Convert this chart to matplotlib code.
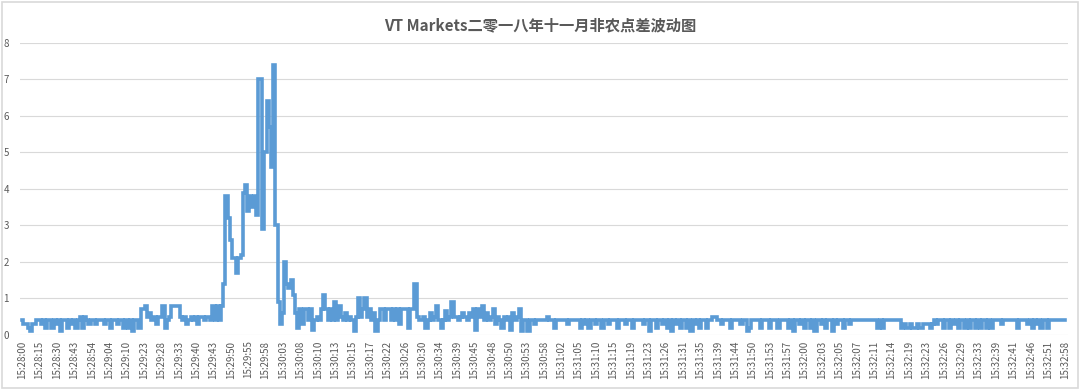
import numpy as np
import matplotlib
matplotlib.use("Agg")
import matplotlib.pyplot as plt
from matplotlib.patches import Rectangle

plt.rcParams['font.family'] = ['Noto Sans CJK SC', 'DejaVu Sans']

title = "VT Markets二零一八年十一月非农点差波动图"

tick_labels = [
    "15:28:00", "15:28:15", "15:28:30", "15:28:43", "15:28:54", "15:29:04",
    "15:29:10", "15:29:23", "15:29:28", "15:29:33", "15:29:40", "15:29:43",
    "15:29:50", "15:29:55", "15:29:58", "15:30:03", "15:30:08", "15:30:10",
    "15:30:13", "15:30:15", "15:30:17", "15:30:22", "15:30:26", "15:30:30",
    "15:30:34", "15:30:39", "15:30:45", "15:30:48", "15:30:50", "15:30:53",
    "15:30:58", "15:31:02", "15:31:05", "15:31:10", "15:31:15", "15:31:19",
    "15:31:23", "15:31:26", "15:31:31", "15:31:35", "15:31:39", "15:31:44",
    "15:31:50", "15:31:53", "15:31:57", "15:32:00", "15:32:03", "15:32:05",
    "15:32:07", "15:32:11", "15:32:14", "15:32:19", "15:32:23", "15:32:26",
    "15:32:29", "15:32:33", "15:32:39", "15:32:41", "15:32:46", "15:32:51",
    "15:32:58",
]

# spread values, 8 samples between consecutive labelled ticks
spread = [
    0.4, 0.3, 0.3, 0.2, 0.1, 0.3, 0.3, 0.4,
    0.4, 0.3, 0.4, 0.2, 0.4, 0.4, 0.2, 0.4,
    0.3, 0.4, 0.1, 0.4, 0.4, 0.2, 0.4, 0.3,
    0.4, 0.2, 0.4, 0.5, 0.2, 0.5, 0.4, 0.3,
    0.4, 0.4, 0.3, 0.4, 0.4, 0.4, 0.3, 0.4,
    0.4, 0.2, 0.4, 0.4, 0.3, 0.4, 0.4, 0.2,
    0.4, 0.2, 0.4, 0.1, 0.4, 0.4, 0.2, 0.7,
    0.7, 0.8, 0.5, 0.6, 0.4, 0.5, 0.3, 0.5,
    0.5, 0.8, 0.2, 0.4, 0.5, 0.8, 0.8, 0.8,
    0.8, 0.5, 0.4, 0.5, 0.3, 0.4, 0.5, 0.4,
    0.5, 0.3, 0.5, 0.5, 0.4, 0.5, 0.5, 0.4,
    0.8, 0.4, 0.8, 0.4, 0.8, 1.4, 3.8, 3.2,
    2.6, 2.1, 2.1, 1.7, 2.1, 2.2, 3.9, 4.1,
    3.4, 3.8, 3.5, 3.8, 3.3, 7.0, 7.0, 2.9,
    5.0, 6.4, 5.7, 4.6, 7.4, 3.0, 0.9, 0.3,
    0.6, 2.0, 1.4, 1.3, 1.5, 1.1, 0.6, 0.2,
    0.7, 0.3, 0.7, 0.7, 0.4, 0.7, 0.15, 0.4,
    0.5, 0.4, 0.7, 1.1, 0.7, 0.4, 0.7, 0.4,
    0.9, 0.4, 0.8, 0.5, 0.4, 0.6, 0.4, 0.5,
    0.4, 0.1, 0.5, 1.0, 0.5, 0.7, 1.0, 0.5,
    0.7, 0.4, 0.6, 0.1, 0.4, 0.7, 0.7, 0.4,
    0.7, 0.7, 0.4, 0.7, 0.4, 0.7, 0.3, 0.7,
    0.7, 0.7, 0.2, 0.7, 0.7, 1.4, 0.5, 0.4,
    0.4, 0.5, 0.2, 0.4, 0.6, 0.4, 0.5, 0.8,
    0.4, 0.2, 0.4, 0.65, 0.4, 0.5, 0.9, 0.5,
    0.5, 0.4, 0.5, 0.6, 0.5, 0.4, 0.6, 0.5,
    0.7, 0.15, 0.7, 0.5, 0.8, 0.4, 0.6, 0.4,
    0.5, 0.7, 0.3, 0.5, 0.4, 0.2, 0.5, 0.4,
    0.5, 0.15, 0.6, 0.4, 0.5, 0.7, 0.1, 0.4,
    0.4, 0.1, 0.4, 0.4, 0.3, 0.4, 0.4, 0.4,
    0.4, 0.4, 0.5, 0.4, 0.4, 0.2, 0.4, 0.4,
    0.4, 0.4, 0.4, 0.3, 0.4, 0.4, 0.4, 0.4,
    0.4, 0.2, 0.4, 0.3, 0.4, 0.2, 0.4, 0.4,
    0.3, 0.4, 0.4, 0.2, 0.4, 0.4, 0.3, 0.4,
    0.4, 0.4, 0.2, 0.4, 0.4, 0.4, 0.3, 0.4,
    0.4, 0.2, 0.4, 0.4, 0.4, 0.4, 0.3, 0.4,
    0.4, 0.1, 0.4, 0.4, 0.2, 0.4, 0.4, 0.3,
    0.4, 0.2, 0.4, 0.1, 0.4, 0.3, 0.4, 0.2,
    0.4, 0.4, 0.2, 0.4, 0.1, 0.4, 0.3, 0.4,
    0.2, 0.4, 0.4, 0.2, 0.4, 0.4, 0.5, 0.5,
    0.4, 0.4, 0.3, 0.4, 0.4, 0.4, 0.2, 0.4,
    0.4, 0.4, 0.4, 0.3, 0.4, 0.4, 0.1, 0.2,
    0.4, 0.4, 0.4, 0.4, 0.2, 0.4, 0.4, 0.4,
    0.2, 0.4, 0.4, 0.4, 0.2, 0.4, 0.4, 0.4,
    0.4, 0.2, 0.4, 0.1, 0.4, 0.4, 0.3, 0.4,
    0.2, 0.4, 0.4, 0.2, 0.4, 0.1, 0.4, 0.4,
    0.3, 0.4, 0.2, 0.4, 0.4, 0.1, 0.4, 0.3,
    0.4, 0.4, 0.2, 0.4, 0.4, 0.3, 0.4, 0.4,
    0.4, 0.4, 0.4, 0.4, 0.4, 0.4, 0.4, 0.4,
    0.4, 0.4, 0.2, 0.4, 0.2, 0.4, 0.4, 0.4,
    0.4, 0.4, 0.4, 0.4, 0.4, 0.2, 0.3, 0.2,
    0.2, 0.3, 0.2, 0.2, 0.3, 0.2, 0.2, 0.3,
    0.3, 0.3, 0.2, 0.3, 0.4, 0.3, 0.4, 0.4,
    0.2, 0.4, 0.4, 0.2, 0.4, 0.3, 0.4, 0.2,
    0.4, 0.4, 0.2, 0.4, 0.2, 0.4, 0.4, 0.2,
    0.4, 0.2, 0.4, 0.4, 0.2, 0.4, 0.2, 0.4,
    0.4, 0.4, 0.4, 0.3, 0.4, 0.4, 0.4, 0.4,
    0.4, 0.4, 0.2, 0.4, 0.4, 0.4, 0.4, 0.3,
    0.4, 0.2, 0.4, 0.3, 0.4, 0.2, 0.4, 0.4,
    0.2, 0.4, 0.4, 0.4, 0.4, 0.4, 0.4, 0.4,
    0.4,
]

per_tick = 8
x = np.arange(len(spread))
txt = '#595959'

fig = plt.figure(figsize=(10.8, 3.9), dpi=100)
fig.patches.append(Rectangle((0.002, 0.004), 0.996, 0.99, transform=fig.transFigure,
                             fill=False, edgecolor='#d9d9d9', lw=1.2))
ax = fig.add_axes([0.0185, 0.141, 0.97, 0.749])

ax.plot(x, spread, color='#5b9bd5', lw=2.6, drawstyle='steps-mid',
        solid_joinstyle='miter')

ax.set_ylim(0, 8)
ax.set_xlim(-1, len(spread))
ax.set_yticks(range(0, 9))
ax.set_xticks(np.arange(len(tick_labels)) * per_tick)
ax.set_xticklabels(tick_labels, rotation=90, fontsize=7, color=txt)
ax.tick_params(axis='y', labelsize=7, colors=txt, length=0, pad=8)
ax.tick_params(axis='x', length=0, pad=4)
ax.grid(axis='y', color='#d9d9d9', lw=0.8)
ax.set_axisbelow(True)
for s in ax.spines.values():
    s.set_visible(False)

fig.suptitle(title, y=0.955, fontsize=11, fontweight='bold', color=txt)

fig.savefig("out.png", dpi=100)
